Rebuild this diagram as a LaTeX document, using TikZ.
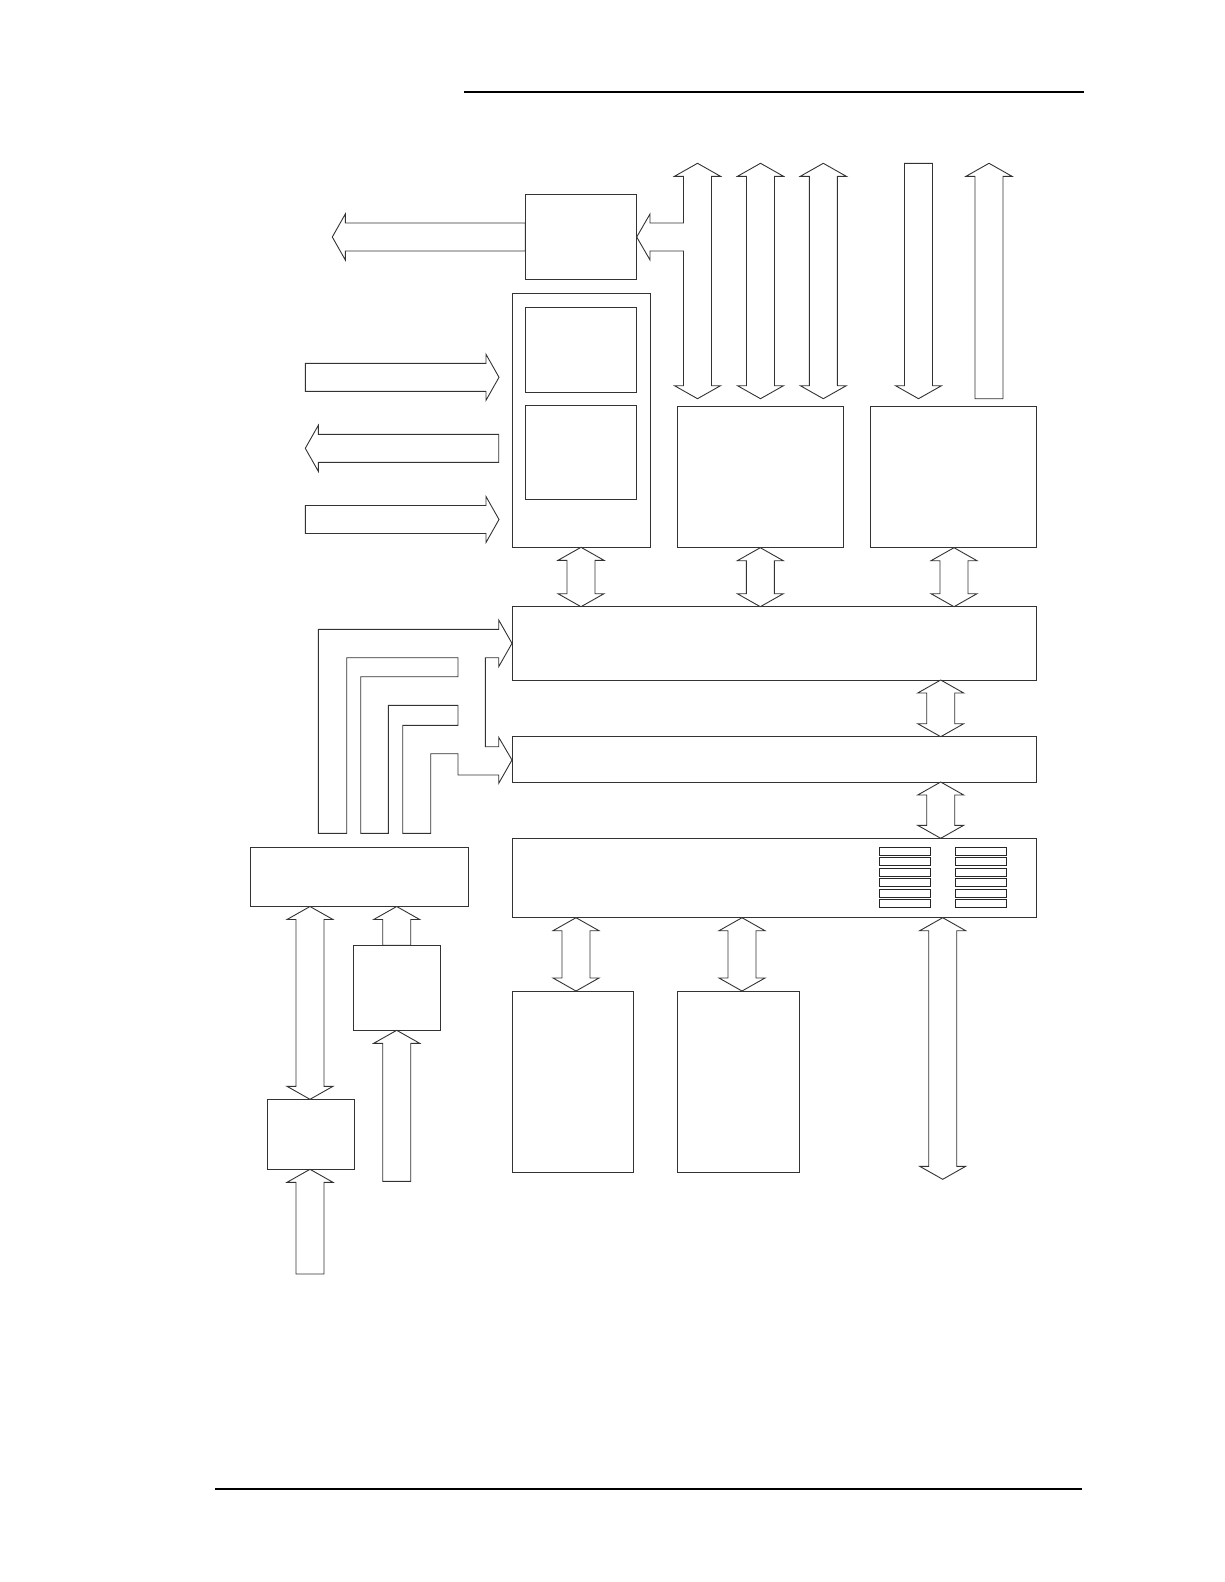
\documentclass[tikz,border=0pt]{standalone}
\usetikzlibrary{calc}
\tikzset{
  blk/.style={draw=black!80, line width=0.9pt, fill=white, inner sep=0pt, outer sep=0pt, anchor=north west, rectangle},
  arr/.style={draw=black!80, line width=0.9pt, fill=white, line join=miter},
  rulebar/.style={line width=2.2pt, black},
  slot/.style={draw=black!85, line width=0.8pt, fill=white, inner sep=0pt, outer sep=0pt, anchor=north west, rectangle, minimum width=51pt, minimum height=8pt}
}
% box: name, x1, y1, x2, y2 (pixel coords, y downward)
\newcommand\BX[5]{\node[blk, minimum width={(#4-#2)*1pt}, minimum height={(#5-#3)*1pt}] (#1) at (#2,#3) {};}
% vertical double arrow: cx, ytop, ybot
\newcommand\VDA[3]{\draw[arr] (#1,#2) -- ++(23,13) -- ++(-9,0) -- ({#1+14},{#3-13}) -- ++(9,0) -- (#1,#3) -- ++(-23,-13) -- ++(9,0) -- ({#1-14},{#2+13}) -- ++(-9,0) -- cycle;}
% vertical up arrow: cx, ytip, ybottom (flat)
\newcommand\VUA[3]{\draw[arr] (#1,#2) -- ++(23,13) -- ++(-9,0) -- ({#1+14},#3) -- ({#1-14},#3) -- ({#1-14},{#2+13}) -- ++(-9,0) -- cycle;}
% vertical down arrow: cx, ytop (flat), ytip
\newcommand\VDN[3]{\draw[arr] ({#1-14},#2) -- ({#1+14},#2) -- ({#1+14},{#3-13}) -- ++(9,0) -- (#1,#3) -- ++(-23,-13) -- ++(9,0) -- cycle;}
% horizontal right arrow: yc, xtail, xtip
\newcommand\HRA[3]{\draw[arr] (#2,{#1-14}) -- ({#3-13},{#1-14}) -- ++(0,-9) -- (#3,#1) -- ({#3-13},{#1+23}) -- ++(0,-9) -- (#2,{#1+14}) -- cycle;}
% horizontal left arrow: yc, xtip, xtail
\newcommand\HLA[3]{\draw[arr] (#3,{#1-14}) -- ({#2+13},{#1-14}) -- ++(0,-9) -- (#2,#1) -- ({#2+13},{#1+23}) -- ++(0,-9) -- (#3,{#1+14}) -- cycle;}
\begin{document}
\begin{tikzpicture}[x=1pt,y=-1pt]
\useasboundingbox (0,0) rectangle (1224,1582);
% page rules
\coordinate (rt1) at (464,92);  \coordinate (rt2) at (1084,92);
\coordinate (rb1) at (215,1488.7); \coordinate (rb2) at (1081.7,1488.7);
\draw[rulebar] (rt1) -- (rt2);
\draw[rulebar] (rb1) -- (rb2);

% boxes
\BX{A}{525.3}{194.3}{636.7}{279.3}
\BX{B}{512}{293.3}{650}{547.3}
\BX{B1}{525.3}{307.3}{636.7}{392}
\BX{B2}{525.3}{405.3}{636.7}{499.3}
\BX{D}{677.3}{406.7}{843.3}{547.7}
\BX{E}{870.7}{406.7}{1036.7}{547.7}
\BX{F}{512}{606.7}{1036.7}{680}
\BX{G}{512}{736.7}{1036.7}{782}
\BX{H}{512}{838.3}{1036.7}{917.7}
\BX{K}{250.3}{847.3}{468.7}{906.5}
\BX{N}{353.3}{945.3}{440.3}{1030.3}
\BX{M}{267.3}{1099.3}{354.7}{1169.3}
\BX{P1}{512}{991}{633.3}{1172.3}
\BX{P2}{677.3}{991}{799.3}{1172.3}

% register slots inside H
\foreach \i in {0,...,5}{
  \node[slot] (sl\i) at (879.3,{847.3+10.4*\i}) {};
  \node[slot] (sr\i) at (955,{847.3+10.4*\i}) {};
}

% arrow out of A to the left
\HLA{237}{332.3}{525.3}
% column 1 with branch into A
\draw[arr] (697.5,163.3) -- ++(23,13) -- ++(-9,0) -- (711.5,385.7) -- ++(9,0) -- (697.5,398.7)
  -- ++(-23,-13) -- ++(9,0) -- (683.5,251) -- (650,251) -- ++(0,9) -- (636.7,237) -- (650,214)
  -- ++(0,9) -- (683.5,223) -- (683.5,176.3) -- ++(-9,0) -- cycle;
% other top columns
\VDA{760.5}{163.3}{398.7}
\VDA{823.3}{163.3}{398.7}
\VDN{918.5}{163.3}{398.7}
\VUA{989}{163.3}{398.7}

% left side arrows at B
\HRA{377.3}{305.3}{499}
\HLA{448.3}{305.3}{498.7}
\HRA{519.5}{305.3}{499}

% arrows to the first bus
\VDA{581}{547.3}{606.7}
\VDA{760.3}{547.7}{606.7}
\VDA{954}{547.7}{606.7}
% bus to bus
\VDA{940.7}{680}{736.7}
\VDA{940.7}{782}{838.3}
% bottom arrows
\VDA{576}{917.7}{991}
\VDA{742}{917.7}{991}
\VDA{942.7}{917.7}{1179.3}

% lower left
\VDA{310}{906.5}{1099.3}
\VUA{396.7}{906.5}{945.3}
\VUA{396.7}{1030.3}{1181.3}
\VUA{310}{1169.3}{1274}

% combined bent bus arrows from K to F and G
\draw[arr] (318.3,833.3) -- (318.3,629.3) -- (498.7,629.3) -- (498.7,620) -- (512,643.3)
  -- (498.7,666.7) -- (498.7,657.7) -- (485.3,657.7) -- (485.3,746.7) -- (498.7,746.7)
  -- (498.7,737.3) -- (512,760) -- (498.7,783.3) -- (498.7,775) -- (458,775) -- (458,753.7)
  -- (430.7,753.7) -- (430.7,833.3) -- (402.7,833.3) -- (402.7,725.3) -- (458,725.3)
  -- (458,705.3) -- (388.3,705.3) -- (388.3,833.3) -- (360.7,833.3) -- (360.7,676.7)
  -- (458,676.7) -- (458,657.7) -- (346.7,657.7) -- (346.7,833.3) -- cycle;
\end{tikzpicture}
\end{document}
